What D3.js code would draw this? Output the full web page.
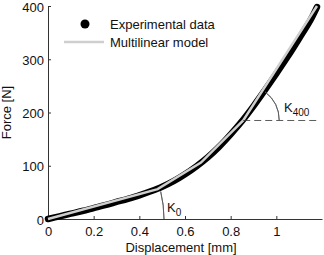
<!DOCTYPE html>
<html>
<head>
<meta charset="utf-8">
<script src="https://cdn.jsdelivr.net/npm/d3@7"></script>
<style>
  body { margin: 0; background: #fff; }
  svg { display: block; font-family: "Liberation Sans", Arial, sans-serif; }
</style>
</head>
<body>
<svg id="chart" width="324" height="255"></svg>
<script>
var dispExp  = [0, 0.05, 0.1, 0.15, 0.2, 0.25, 0.3, 0.35, 0.4, 0.45, 0.5, 0.55, 0.6, 0.65, 0.7, 0.75, 0.8, 0.85, 0.9, 0.95, 1.0, 1.05, 1.1, 1.15, 1.178];
var forceExp = [0, 5, 10, 15, 20.5, 26, 32, 38, 44.5, 52, 60.5, 71, 84, 99, 116, 136, 159, 184, 212, 242, 273, 305, 339, 374, 398];

// multilinear model breakpoints
var dispModel  = [0, 0.48, 0.67, 0.855, 1.178];
var forceModel = [0, 56, 106, 185, 400];

var xTicks = [0, 0.2, 0.4, 0.6, 0.8, 1];
var yTicks = [0, 100, 200, 300, 400];

var svg = d3.select("#chart");
var margin = {left: 48, right: 2, top: 6, bottom: 36};
var W = 324, H = 255;

var x = d3.scaleLinear().domain([0, 1.2]).range([margin.left, W - margin.right]);
var y = d3.scaleLinear().domain([0, 400]).range([H - margin.bottom, margin.top]);

// axes
var xAxis = d3.axisBottom(x).tickValues(xTicks).tickSizeInner(-3).tickSizeOuter(0)
    .tickFormat(function(d) { return d3.format("")(d); });
var yAxis = d3.axisLeft(y).tickValues(yTicks).tickSizeInner(-3).tickSizeOuter(0);

var gx = svg.append("g").attr("transform", "translate(0," + y(0) + ")").call(xAxis);
var gy = svg.append("g").attr("transform", "translate(" + x(0) + ",0)").call(yAxis);

[gx, gy].forEach(function(g) {
    g.select(".domain").attr("stroke", "#333").attr("stroke-width", 1);
    g.selectAll(".tick line").attr("stroke", "#333");
    g.selectAll(".tick text").attr("font-size", "13px").attr("fill", "#111")
        .attr("font-family", "Liberation Sans, Arial, sans-serif");
});
gx.selectAll(".tick text").attr("dy", "1.1em");
gy.selectAll(".tick text").attr("x", -4).attr("dy", "0.4em");

// axis titles
svg.append("text")
    .attr("x", (x.range()[0] + x.range()[1]) / 2 - 4)
    .attr("y", 252)
    .attr("text-anchor", "middle")
    .attr("font-size", "13px")
    .attr("fill", "#111")
    .text("Displacement [mm]");

svg.append("text")
    .attr("transform", "translate(11," + y(200) + ") rotate(-90)")
    .attr("text-anchor", "middle")
    .attr("font-size", "13px")
    .attr("fill", "#111")
    .text("Force [N]");

// experimental data: dense dots drawn as a thick line
var expPts = dispExp.map(function(d, i) { return [d, forceExp[i]]; });
var line = d3.line().x(function(d) { return x(d[0]); }).y(function(d) { return y(d[1]); });

svg.append("path")
    .attr("d", line.curve(d3.curveCatmullRom)(expPts))
    .attr("fill", "none")
    .attr("stroke", "#000")
    .attr("stroke-width", 6.5)
    .attr("stroke-linecap", "round")
    .attr("stroke-linejoin", "round");

// multilinear model
var modelPts = dispModel.map(function(d, i) { return [d, forceModel[i]]; });
svg.append("path")
    .attr("d", d3.line().x(function(d) { return x(d[0]); }).y(function(d) { return y(d[1]); })(modelPts))
    .attr("fill", "none")
    .attr("stroke", "#cfcfcf")
    .attr("stroke-width", 2.5);

// K0 angle arc at origin
var ox = x(0), oy = y(0);
var a0 = Math.atan2(oy - y(forceModel[1]), x(dispModel[1]) - ox);
var r0 = 116;
svg.append("path")
    .attr("d", d3.arc()({innerRadius: r0, outerRadius: r0, startAngle: Math.PI / 2 - a0 * 0.9, endAngle: Math.PI / 2}))
    .attr("transform", "translate(" + ox + "," + oy + ")")
    .attr("fill", "none")
    .attr("stroke", "#555")
    .attr("stroke-width", 0.8);

var k0 = svg.append("text").attr("x", 167).attr("y", 212).attr("font-size", "13px").attr("fill", "#111");
k0.append("tspan").text("K");
k0.append("tspan").attr("dy", 4).attr("font-size", "10px").text("0");

// K400 angle: dashed horizontal + arc at the last breakpoint
var n = dispModel.length;
var bx = x(dispModel[n - 2]), by = y(forceModel[n - 2]);
svg.append("line")
    .attr("x1", bx).attr("y1", by)
    .attr("x2", W - 5).attr("y2", by)
    .attr("stroke", "#333")
    .attr("stroke-width", 0.8)
    .attr("stroke-dasharray", "7,4");

var a1 = Math.atan2(by - y(forceModel[n - 1]), x(dispModel[n - 1]) - bx);
var r1 = 36;
svg.append("path")
    .attr("d", d3.arc()({innerRadius: r1, outerRadius: r1, startAngle: Math.PI / 2 - a1 * 0.92, endAngle: Math.PI / 2}))
    .attr("transform", "translate(" + bx + "," + by + ")")
    .attr("fill", "none")
    .attr("stroke", "#555")
    .attr("stroke-width", 0.8);

var k4 = svg.append("text").attr("x", 284).attr("y", 112).attr("font-size", "13px").attr("fill", "#111");
k4.append("tspan").text("K");
k4.append("tspan").attr("dy", 4).attr("font-size", "10px").text("400");

// legend
svg.append("circle").attr("cx", 85).attr("cy", 24).attr("r", 4.5).attr("fill", "#000");
svg.append("text").attr("x", 110).attr("y", 29).attr("font-size", "13px").attr("fill", "#111").text("Experimental data");
svg.append("line").attr("x1", 64).attr("x2", 104).attr("y1", 42).attr("y2", 42)
    .attr("stroke", "#cfcfcf").attr("stroke-width", 2.5);
svg.append("text").attr("x", 110).attr("y", 47).attr("font-size", "13px").attr("fill", "#111").text("Multilinear model");
</script>
</body>
</html>
